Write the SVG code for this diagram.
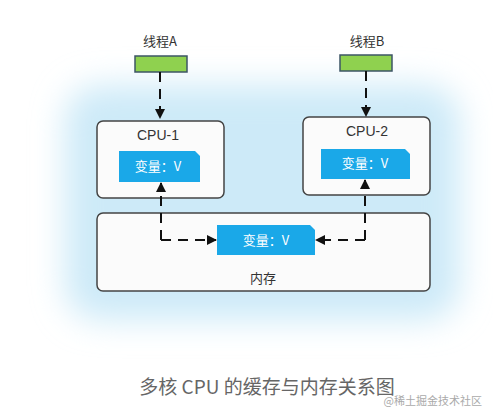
<svg xmlns="http://www.w3.org/2000/svg" width="493" height="418" viewBox="0 0 493 418">
<defs>
<style>
.lbl{font-family:"Liberation Sans","Noto Sans CJK SC",sans-serif;font-size:14px;fill:#333;text-anchor:middle}
.cjk{font-family:"Noto Sans CJK SC",sans-serif;font-size:13px;fill:#333;text-anchor:middle}
.var{font-family:"Noto Sans CJK SC",sans-serif;font-size:13px;fill:#fff;text-anchor:middle}
.box{fill:#fbfbfb;stroke:#444;stroke-width:1.5}
.thr{fill:#8fd14f;stroke:#3d5566;stroke-width:1.5}
.blue{fill:#1aa8e8}
.con{fill:none;stroke:#111;stroke-width:2;stroke-dasharray:10,7}
</style>
<filter id="glow" x="-30%" y="-30%" width="160%" height="160%"><feGaussianBlur stdDeviation="16"/></filter>
<marker id="ah" viewBox="0 0 10 10" refX="9" refY="5" markerWidth="5" markerHeight="5" orient="auto"><path d="M0,0 L10,5 L0,10 z" fill="#111"/></marker>
</defs>
<rect width="493" height="418" fill="#fff"/>
<rect x="65" y="85" width="395" height="235" rx="35" fill="#cdeaf8" filter="url(#glow)"/>
<g id="threadA">
<text class="cjk" x="160" y="46">线程A</text>
<rect class="thr" x="135" y="56" width="52" height="16"/>
</g>
<g id="threadB">
<text class="cjk" x="367" y="46">线程B</text>
<rect class="thr" x="340" y="55" width="52" height="16"/>
</g>
<g id="cpu1">
<rect class="box" x="97" y="121" width="127" height="77" rx="6"/>
<text class="lbl" x="158" y="140">CPU-1</text>
<path class="blue" d="M119,151 H195 L200,156 V182 H119 Z"/>
<text class="var" x="158" y="171">变量：V</text>
</g>
<g id="cpu2">
<rect class="box" x="303" y="117" width="127" height="78" rx="6"/>
<text class="lbl" x="367" y="136">CPU-2</text>
<path class="blue" d="M321,149 H405 L410,154 V179 H321 Z"/>
<text class="var" x="365" y="168">变量：V</text>
</g>
<g id="memory">
<rect class="box" x="97" y="213" width="333" height="78" rx="6"/>
<path class="blue" d="M217,225 H310 L315,230 V255 H217 Z"/>
<text class="var" x="266" y="245">变量：V</text>
<text class="cjk" x="263" y="283">内存</text>
</g>
<g id="connectors">
<path class="con" d="M160,72 V118" marker-end="url(#ah)"/>
<path class="con" d="M366,71 V116" marker-end="url(#ah)"/>
<path class="con" d="M161,240 V183" marker-end="url(#ah)"/>
<path class="con" d="M161,240 H216" marker-end="url(#ah)"/>
<path class="con" d="M365,240 V180" marker-end="url(#ah)"/>
<path class="con" d="M365,240 H316" marker-end="url(#ah)"/>
</g>
<text x="267" y="394" font-family="Noto Sans CJK SC,sans-serif" font-size="19" fill="#666" text-anchor="middle">多核 CPU 的缓存与内存关系图</text>
<text x="482" y="405" font-family="Noto Sans CJK SC,sans-serif" font-size="11" fill="#aaa" text-anchor="end">@稀土掘金技术社区</text>
</svg>
